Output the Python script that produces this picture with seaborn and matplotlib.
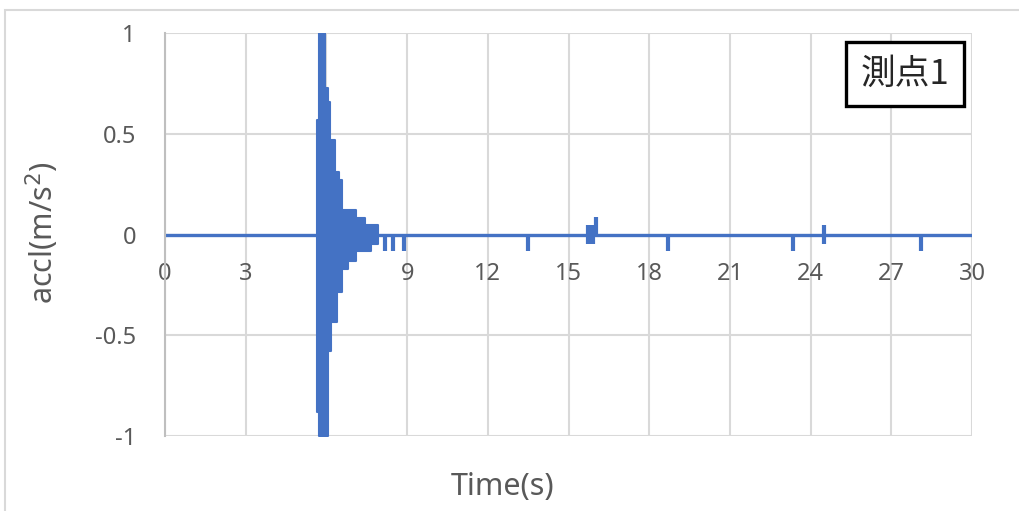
import numpy as np
import pandas as pd
import seaborn as sns
import matplotlib.pyplot as plt
from matplotlib.patches import Rectangle

# baseline of the record
base_t = [0, 30]
base_a = [0, 0]

# envelope of the main burst (step segments, start time of each step)
burst_t = [5.65, 5.72, 5.95, 6.05, 6.12, 6.17, 6.30, 6.38, 6.48, 6.58, 6.80, 7.08, 7.45, 7.65, 7.90]
burst_pos = [0.57, 1.0, 0.73, 0.66, 0.47, 0.47, 0.31, 0.31, 0.27, 0.12, 0.12, 0.08, 0.045, 0.045, 0.0]
burst_neg = [-0.88, -1.0, -1.0, -0.58, -0.58, -0.435, -0.435, -0.286, -0.286, -0.17, -0.13, -0.08, -0.08, -0.045, 0.0]

# isolated spikes later in the record
spike_t = [8.18, 8.48, 8.88, 13.5, 15.72, 15.8, 15.9, 16.02, 18.7, 23.35, 24.5, 28.1]
spike_lo = [-0.08, -0.08, -0.08, -0.08, -0.045, -0.045, -0.045, 0.0, -0.08, -0.08, -0.045, -0.08]
spike_hi = [0.0, 0.0, 0.0, 0.0, 0.045, 0.045, 0.045, 0.085, 0.0, 0.0, 0.045, 0.0]

xticks = [0, 3, 6, 9, 12, 15, 18, 21, 24, 27, 30]
yticks = [-1, -0.5, 0, 0.5, 1]
ytick_labels = ["-1", "-0.5", "0", "0.5", "1"]

sns.set_theme(style="white")
plt.rcParams['font.family'] = ['Noto Sans', 'Noto Sans CJK JP', 'DejaVu Sans']

blue = "#4472C4"
grey_txt = "#595959"

fig = plt.figure(figsize=(10.19, 5.11), dpi=100)
ax = fig.add_axes([0.162, 0.147, 0.792, 0.788])

df = pd.DataFrame({"t": base_t, "a": base_a})
sns.lineplot(data=df, x="t", y="a", ax=ax, color=blue, lw=2.4)
ax.fill_between(burst_t, burst_neg, burst_pos, step="post", color=blue, ec=blue, lw=1.5)
ax.vlines(spike_t, spike_lo, spike_hi, color=blue, lw=3)

ax.set_xlim(0, 30)
ax.set_ylim(-1, 1)
ax.set_xticks(xticks)
ax.set_yticks(yticks)
ax.set_yticklabels(ytick_labels)
ax.grid(True, color="#d9d9d9", lw=1.5)
ax.set_axisbelow(True)

for s in ["top", "right"]:
    ax.spines[s].set_visible(False)
ax.spines["left"].set_color("#bfbfbf")
ax.spines["left"].set_linewidth(1.5)
ax.spines["bottom"].set_position(("data", 0))
ax.spines["bottom"].set_visible(False)
ax.tick_params(axis="x", length=0, pad=20, labelsize=17, labelcolor=grey_txt)
ax.tick_params(axis="y", length=0, pad=21, labelsize=17, labelcolor=grey_txt)

ax.set_xlabel("")
ax.set_ylabel("")
fig.text(0.493, 0.047, "Time(s)", ha="center", va="center", fontsize=22, color=grey_txt)
fig.text(0.041, 0.544, "accl(m/s$^2$)", ha="center", va="center", rotation=90, fontsize=22, color=grey_txt)

ax.text(0.917, 0.898, "測点1", transform=ax.transAxes, ha="center", va="center",
        fontsize=25, color="#262626", family=['Noto Sans CJK JP', 'DejaVu Sans'],
        bbox=dict(boxstyle="square,pad=0.42", fc="white", ec="black", lw=2.4))

fig.patches.append(Rectangle((0.005, -0.02), 1.2, 0.9999 - 10 / 511 + 0.02, transform=fig.transFigure,
                             fill=False, ec="#d9d9d9", lw=1.5))

fig.savefig("out.png", dpi=100)
